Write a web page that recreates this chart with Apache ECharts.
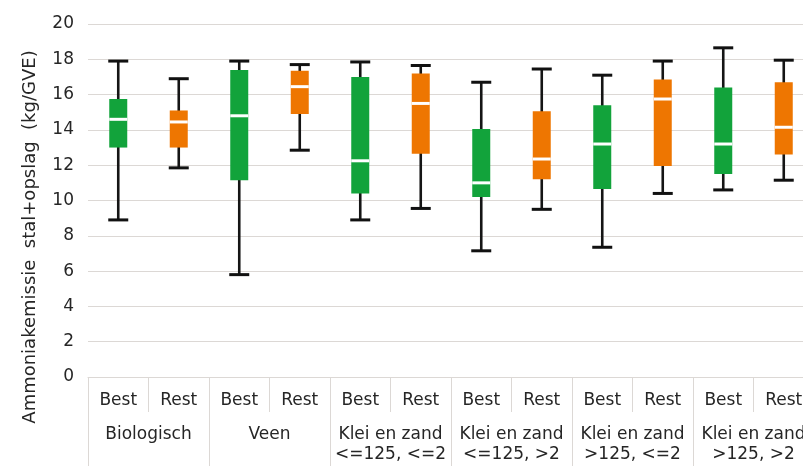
<!DOCTYPE html>
<html>
<head>
<meta charset="utf-8">
<script src="https://cdn.jsdelivr.net/npm/echarts@6/dist/echarts.min.js"></script>
<style>
  html, body { margin: 0; padding: 0; background: #fff; }
  #chart { width: 803px; height: 466px; }
</style>
</head>
<body>
<div id="chart"></div>
<script>
// Groups (outer axis) and sub-categories (inner axis)
const groups = ['Biologisch', 'Veen', 'Klei en zand\n<=125, <=2', 'Klei en zand\n<=125, >2', 'Klei en zand\n>125, <=2', 'Klei en zand\n>125, >2'];
const subLabels = ['Best', 'Rest', 'Best', 'Rest', 'Best', 'Rest', 'Best', 'Rest', 'Best', 'Rest', 'Best', 'Rest'];

// Box-and-whisker statistics per box, in subLabels order
const whiskerLow  = [8.9, 11.85, 5.8, 12.85, 8.9, 9.55, 7.15, 9.5, 7.35, 10.4, 10.6, 11.15];
const quartile1   = [13.0, 13.0, 11.15, 14.9, 10.4, 12.65, 10.2, 11.2, 10.65, 11.95, 11.5, 12.6];
const median      = [14.6, 14.45, 14.8, 16.45, 12.25, 15.5, 11.0, 12.35, 13.2, 15.75, 13.2, 14.15];
const quartile3   = [15.75, 15.1, 17.4, 17.35, 17.0, 17.2, 14.05, 15.05, 15.4, 16.85, 16.4, 16.7];
const whiskerHigh = [17.9, 16.9, 17.9, 17.7, 17.85, 17.65, 16.7, 17.45, 17.1, 17.9, 18.65, 17.95];

// Y axis ticks
const yMin = 0, yMax = 20, yStep = 2;

const colorBest = '#12a33b';
const colorRest = '#ee7601';
const font = 'DejaVu Sans';
const textColor = '#262626';
const lineGray = '#dcd8d5';

const boxData = subLabels.map((s, i) => [i, whiskerLow[i], quartile1[i], median[i], quartile3[i], whiskerHigh[i]]);

const chart = echarts.init(document.getElementById('chart'));

chart.setOption({
  animation: false,
  grid: { left: 88, top: 24, width: 726, bottom: 89, containLabel: false, outerBoundsMode: 'none' },
  xAxis: [
    {
      type: 'category',
      data: subLabels,
      boundaryGap: true,
      axisLine: { show: true, lineStyle: { color: lineGray, width: 1 } },
      axisTick: { show: true, interval: 0, length: 35, lineStyle: { color: lineGray, width: 1 } },
      axisLabel: { interval: 0, margin: 14, fontFamily: font, fontSize: 17, color: textColor, lineHeight: 20 },
      splitLine: { show: false }
    },
    {
      type: 'category',
      data: groups,
      position: 'bottom',
      boundaryGap: true,
      axisLine: { show: false },
      axisTick: { show: true, interval: 0, length: 95, lineStyle: { color: lineGray, width: 1 } },
      axisLabel: { interval: 0, margin: 48, fontFamily: font, fontSize: 17, color: textColor, lineHeight: 20, verticalAlign: 'top' },
      splitLine: { show: false }
    }
  ],
  yAxis: {
    type: 'value',
    min: yMin,
    max: yMax,
    interval: yStep,
    axisLine: { show: false },
    axisTick: { show: false },
    axisLabel: { margin: 14, fontFamily: font, fontSize: 17, color: textColor },
    splitLine: { lineStyle: { color: lineGray, width: 1 } }
  },
  graphic: [
    {
      type: 'text',
      x: 30,
      y: 237,
      rotation: Math.PI / 2,
      style: {
        text: 'Ammoniakemissie  stal+opslag  (kg/GVE)',
        font: '18px "DejaVu Sans"',
        fill: textColor,
        textAlign: 'center',
        textVerticalAlign: 'middle'
      }
    }
  ],
  series: [
    {
      type: 'custom',
      xAxisIndex: 0,
      yAxisIndex: 0,
      data: boxData,
      clip: false,
      renderItem: function (params, api) {
        const idx = api.value(0);
        const lo = api.coord([idx, api.value(1)]);
        const q1 = api.coord([idx, api.value(2)]);
        const md = api.coord([idx, api.value(3)]);
        const q3 = api.coord([idx, api.value(4)]);
        const hi = api.coord([idx, api.value(5)]);
        const cx = lo[0];
        const boxW = 18, capW = 20;
        const fill = subLabels[idx] === 'Best' ? colorBest : colorRest;
        const whisker = { stroke: '#151515', lineWidth: 2.6 };
        const cap = { stroke: '#111', lineWidth: 3 };
        return {
          type: 'group',
          children: [
            { type: 'line', shape: { x1: cx, y1: hi[1], x2: cx, y2: lo[1] }, style: whisker },
            { type: 'line', shape: { x1: cx - capW / 2, y1: hi[1], x2: cx + capW / 2, y2: hi[1] }, style: cap },
            { type: 'line', shape: { x1: cx - capW / 2, y1: lo[1], x2: cx + capW / 2, y2: lo[1] }, style: cap },
            { type: 'rect', shape: { x: cx - boxW / 2, y: q3[1], width: boxW, height: q1[1] - q3[1] }, style: { fill: fill } },
            { type: 'line', shape: { x1: cx - boxW / 2, y1: md[1], x2: cx + boxW / 2, y2: md[1] }, style: { stroke: '#ffffff', lineWidth: 3 } }
          ]
        };
      }
    }
  ]
});
</script>
</body>
</html>
